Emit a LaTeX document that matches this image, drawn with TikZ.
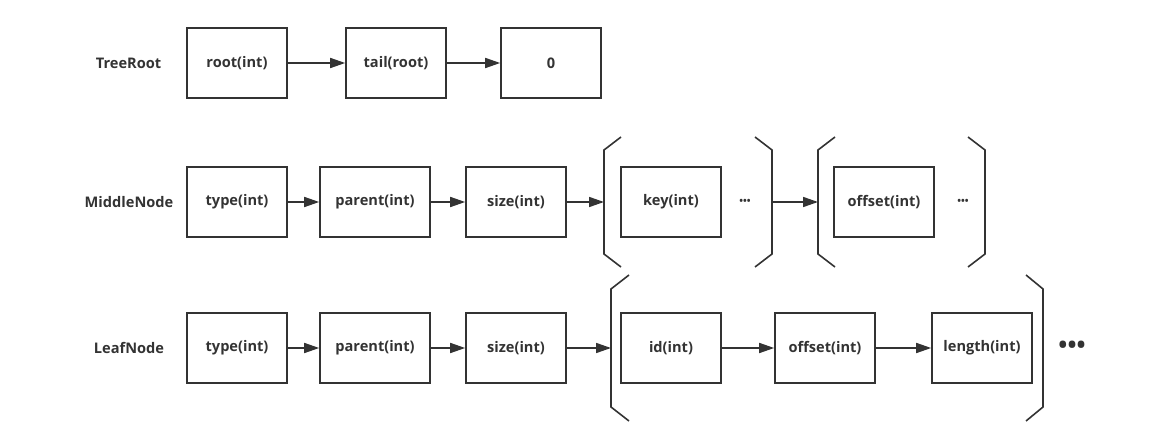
\documentclass[tikz,border=0pt]{standalone}
\usepackage{fontspec}
\setmainfont{Open Sans}[BoldFont={Open Sans Bold}]
\usetikzlibrary{arrows.meta}
\definecolor{ink}{HTML}{333333}
\tikzset{
  box/.style={draw=ink, line width=1.6pt, minimum height=70pt, inner sep=0pt, font=\fontsize{14.6}{16}\selectfont\bfseries, text=ink},
  lbl/.style={font=\fontsize{14.6}{16}\selectfont\bfseries, text=ink, inner sep=0pt},
  link/.style={draw=ink, line width=1.6pt, -{Triangle[length=15pt,width=10pt]}},
  brk/.style={draw=ink, line width=1.6pt},
  dotsS/.style={font=\fontsize{10}{11}\selectfont\bfseries, text=ink, inner sep=0pt},
  dotsL/.style={font=\fontsize{24}{26}\selectfont\bfseries, text=ink, inner sep=0pt},
}
\begin{document}
\begin{tikzpicture}[x=1pt,y=-1pt]
\useasboundingbox (0,0) rectangle (1175,438);
% Row 1
\node[lbl] (tr) at (128.5,63) {TreeRoot};
\node[box, minimum width=100pt] (r1) at (237,63) {root(int)};
\node[box, minimum width=100pt] (r2) at (396,63) {tail(root)};
\node[box, minimum width=100pt] (r3) at (551,63) {0};
\draw[link] (r1) -- (r2);
\draw[link] (r2) -- (r3);
% Row 2
\node[lbl] (mn) at (129,202) {MiddleNode};
\node[box, minimum width=100pt] (m1) at (237,202) {type(int)};
\node[box, minimum width=110pt] (m2) at (375,202) {parent(int)};
\node[box, minimum width=100pt] (m3) at (516,202) {size(int)};
\node[box, minimum width=100pt] (m4) at (671,202) {key(int)};
\node[dotsS] (md1) at (745,202) {•••};
\node[box, minimum width=100pt] (m5) at (884,202) {offset(int)};
\node[dotsS] (md2) at (963,202) {•••};
\coordinate (b1l) at (604,202);
\coordinate (b1r) at (772,202);
\coordinate (b2l) at (818,202);
\coordinate (b2r) at (985,202);
\draw[brk] (621,137) -- (604,150) -- (604,254) -- (621,267);
\draw[brk] (755,137) -- (772,150) -- (772,254) -- (755,267);
\draw[brk] (835,137) -- (818,150) -- (818,254) -- (835,267);
\draw[brk] (968,137) -- (985,150) -- (985,254) -- (968,267);
\draw[link] (m1) -- (m2);
\draw[link] (m2) -- (m3);
\draw[link] (m3) -- (b1l);
\draw[link] (b1r) -- (b2l);
% Row 3
\node[lbl] (ln) at (129,348) {LeafNode};
\node[box, minimum width=100pt] (l1) at (237,348) {type(int)};
\node[box, minimum width=110pt] (l2) at (375,348) {parent(int)};
\node[box, minimum width=100pt] (l3) at (516,348) {size(int)};
\node[box, minimum width=100pt] (l4) at (671,348) {id(int)};
\node[box, minimum width=100pt] (l5) at (825,348) {offset(int)};
\node[box, minimum width=100pt] (l6) at (982,348) {length(int)};
\node[dotsL] (ld) at (1072,347) {•••};
\coordinate (b3l) at (611,348);
\draw[brk] (629,275) -- (611,289) -- (611,407) -- (629,421);
\draw[brk] (1026,275) -- (1043,289) -- (1043,407) -- (1026,421);
\draw[link] (l1) -- (l2);
\draw[link] (l2) -- (l3);
\draw[link] (l3) -- (b3l);
\draw[link] (l4) -- (l5);
\draw[link] (l5) -- (l6);
\end{tikzpicture}
\end{document}
